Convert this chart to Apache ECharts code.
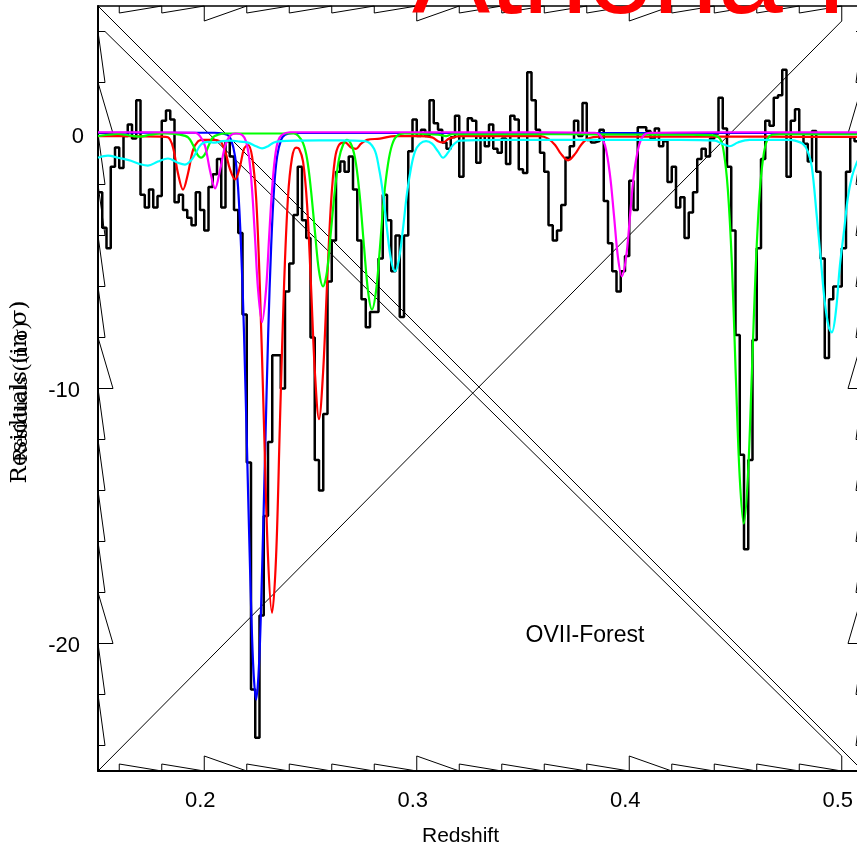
<!DOCTYPE html>
<html>
<head>
<meta charset="utf-8">
<script src="https://cdn.jsdelivr.net/npm/echarts@6/dist/echarts.min.js"></script>
<style>
  html, body { margin: 0; padding: 0; background: #ffffff; }
  #chart { width: 857px; height: 848px; }
</style>
</head>
<body>
<div id="chart"></div>
<script>
// Axis ranges
const X_MIN = 0.15, X_MAX = 0.51, Y_MIN = -25, Y_MAX = 5;

// Tick positions (sawtooth tick marks) and labelled ticks
const xTickVals = [0.16, 0.18, 0.2, 0.22, 0.24, 0.26, 0.28, 0.3, 0.32, 0.34, 0.36, 0.38, 0.4, 0.42, 0.44, 0.46, 0.48, 0.5];
const xMajorVals = [0.2, 0.3, 0.4, 0.5];
const yTickVals = [-24, -22, -20, -18, -16, -14, -12, -10, -8, -6, -4, -2, 0, 2, 4];
const yMajorVals = [-20, -10, 0];
const xLabelVals = [0.2, 0.3, 0.4, 0.5];
const yLabelVals = [-20, -10, 0];

// Binned residuals: bins of width 0.002 starting at z = 0.150
const binStart = 0.15;
const binWidth = 0.002;
const residuals = [
  -2.3, -3.7, -4.5, -1.3, -0.55, -1.35, -0.1, 0.35, -0.2, 1.3,
  -2.4, -2.9, -2.2, -2.9, -2.45, 0.5, 0.9, 0.55, -2.7, -2.4,
  -3.0, -3.3, -3.6, -2.3, -3.0, -3.8, -2.1, -1.6, -1.0, -2.9,
  -0.3, -0.9, -3.0, -3.9, -7.1, -12.9, -21.8, -23.7, -18.9, -15.0,
  -12.1, -8.7, -8.7, -10.0, -6.2, -5.1, -3.2, -1.3, -3.4, -4.1,
  -8.0, -12.8, -14.0, -11.0, -5.8, -4.2, -1.5, -1.1, -1.5, -0.9,
  -2.2, -4.2, -6.5, -7.6, -7.0, -7.0, -4.9, -2.4, -3.4, -5.4,
  -4.0, -7.2, -4.0, -0.7, 0.55, -0.1, 0.15, -0.1, 1.3, 0.4,
  0.15, -0.35, -0.6, -0.15, 0.7, -1.7, 0.0, 0.6, 0.5, -1.15,
  0.0, -0.5, 0.35, -0.6, -0.75, -0.2, -1.2, 0.7, 0.55, -1.4,
  -1.55, 2.4, 1.3, 0.15, -0.75, -1.5, -3.6, -4.2, -3.8, -2.8,
  -0.95, -0.5, 0.5, -0.1, 1.2, -0.25, -0.35, -0.3, 0.15, -2.65,
  -4.3, -5.4, -6.2, -5.4, -4.8, -1.85, -3.0, 0.25, 0.25, 0.1,
  -0.2, 0.2, -0.5, -0.3, -1.9, -1.3, -2.9, -2.5, -4.1, -3.1,
  -2.3, -1.0, -0.6, -0.9, -0.2, 0.0, 1.4, 0.2, -1.3, -3.8,
  -7.9, -12.6, -16.3, -12.8, -8.1, -4.5, -1.0, 0.5, 0.3, 1.4,
  1.5, 2.5, -1.7, 0.5, 0.95, 0.0, -0.4, -1.1, 0.1, -1.5,
  -4.9, -8.8, -6.5, -6.0, -6.0, -4.5, -1.5, -0.15, -0.3, -0.5
];

// Line-absorption model components: [redshift, residual]
const blueModel = [
  [0.1500, 0.03], [0.1800, 0.03], [0.2050, 0.03], [0.2108, -0.05], [0.2126, -0.24], [0.2145, -0.9],
  [0.2159, -2.1], [0.2173, -4.4], [0.2187, -7.8], [0.2201, -12.3], [0.2216, -17.2], [0.2230, -20.8],
  [0.2244, -22.2], [0.2258, -20.8], [0.2272, -17.2], [0.2287, -12.3], [0.2301, -7.8], [0.2315, -4.4],
  [0.2329, -2.1], [0.2343, -0.9], [0.2362, -0.24], [0.2380, -0.05], [0.2420, 0.02], [0.26, 0.02],
  [0.30, 0.02], [0.35, 0.02], [0.40, 0.02], [0.45, 0.02], [0.51, 0.02]
];
const redModel = [
  [0.1500, -0.1], [0.1651, -0.1], [0.1792, -0.12], [0.1829, -0.15], [0.1853, -0.55], [0.1876, -1.55],
  [0.1900, -2.2], [0.1924, -1.55], [0.1947, -0.65], [0.1971, -0.3], [0.1994, -0.25], [0.2041, -0.25],
  [0.2074, -0.3], [0.2084, -0.4], [0.2102, -0.8], [0.2121, -1.4], [0.2145, -1.8], [0.2168, -1.3],
  [0.2187, -0.6], [0.2206, -0.45], [0.2225, -0.9], [0.2244, -2.5], [0.2262, -6.1], [0.2281, -11.4],
  [0.2300, -16.6], [0.2319, -18.8], [0.2338, -16.6], [0.2356, -11.4], [0.2375, -6.1], [0.2394, -2.5],
  [0.2413, -0.95], [0.2432, -0.55], [0.2446, -0.6], [0.2465, -1.1], [0.2484, -2.8], [0.2502, -5.9],
  [0.2521, -9.4], [0.2540, -11.2], [0.2559, -9.4], [0.2578, -5.9], [0.2596, -2.8], [0.2615, -1.0],
  [0.2634, -0.45], [0.2662, -0.35], [0.2691, -0.55], [0.2714, -0.6], [0.2738, -0.4], [0.2766, -0.25],
  [0.2827, -0.2], [0.2898, -0.1], [0.3015, -0.1], [0.3072, -0.15], [0.3100, -0.3], [0.3124, -0.35],
  [0.3152, -0.2], [0.3204, -0.1], [0.3392, -0.1], [0.3580, -0.1], [0.3618, -0.2], [0.3651, -0.45],
  [0.3679, -0.8], [0.3712, -1.05], [0.3745, -0.8], [0.3773, -0.45], [0.3806, -0.2], [0.3862, -0.12],
  [0.4098, -0.12], [0.45, -0.12], [0.48, -0.13], [0.51, -0.13]
];
const magentaModel = [
  [0.1500, 0.05], [0.1745, 0.05], [0.1956, 0.03], [0.1980, -0.1], [0.2004, -0.5], [0.2027, -1.45],
  [0.2051, -2.15], [0.2074, -1.45], [0.2098, -0.5], [0.2121, -0.1], [0.2149, 0.0], [0.2178, -0.05],
  [0.2196, -0.3], [0.2211, -0.94], [0.2225, -2.2], [0.2239, -4.1], [0.2253, -6.1], [0.2272, -7.4],
  [0.2291, -6.1], [0.2305, -4.1], [0.2319, -2.2], [0.2333, -0.94], [0.2347, -0.3], [0.2366, -0.05],
  [0.2404, 0.05], [0.28, 0.05], [0.32, 0.05], [0.36, 0.05], [0.3839, 0.03], [0.3862, -0.06],
  [0.3886, -0.46], [0.3909, -1.6], [0.3928, -3.2], [0.3947, -4.87], [0.3965, -5.6], [0.3985, -4.87],
  [0.4004, -3.2], [0.4022, -1.6], [0.4046, -0.46], [0.4069, -0.06], [0.4098, 0.03], [0.44, 0.05],
  [0.48, 0.05], [0.51, 0.05]
];
const greenModel = [
  [0.1500, -0.1], [0.1547, -0.05], [0.1594, -0.02], [0.1627, -0.05], [0.1698, -0.12], [0.1745, -0.05],
  [0.1815, 0.0], [0.1886, -0.05], [0.1924, -0.15], [0.1947, -0.45], [0.1966, -0.8], [0.1985, -0.95],
  [0.2004, -0.8], [0.2022, -0.45], [0.2041, -0.15], [0.2065, -0.05], [0.2098, 0.0], [0.22, 0.0],
  [0.23, 0.0], [0.2420, 0.0], [0.2441, -0.08], [0.2465, -0.38], [0.2484, -1.0], [0.2502, -2.2],
  [0.2521, -3.86], [0.2540, -5.4], [0.2559, -6.0], [0.2578, -5.4], [0.2596, -3.86], [0.2615, -2.2],
  [0.2634, -1.0], [0.2653, -0.45], [0.2672, -0.25], [0.2695, -0.5], [0.2714, -1.18], [0.2733, -2.55],
  [0.2752, -4.45], [0.2771, -6.2], [0.2789, -6.9], [0.2808, -6.2], [0.2827, -4.45], [0.2845, -2.55],
  [0.2865, -1.18], [0.2884, -0.44], [0.2906, -0.1], [0.2944, 0.0], [0.3100, -0.05], [0.3138, -0.1],
  [0.3166, -0.03], [0.34, -0.03], [0.37, -0.03], [0.40, -0.04], [0.43, -0.05], [0.4385, -0.06],
  [0.4426, -0.19], [0.4445, -0.74], [0.4464, -2.2], [0.4483, -5.1], [0.4501, -9.4], [0.4520, -13.5],
  [0.4539, -15.3], [0.4558, -13.5], [0.4577, -9.4], [0.4596, -5.1], [0.4615, -2.2], [0.4634, -0.74],
  [0.4652, -0.19], [0.4672, -0.05], [0.4709, -0.03], [0.49, -0.03], [0.51, -0.03]
];
const cyanModel = [
  [0.1500, -0.95], [0.1547, -0.87], [0.1594, -0.95], [0.1655, -1.07], [0.1698, -1.2], [0.1735, -1.26],
  [0.1782, -1.1], [0.1829, -0.98], [0.1876, -1.15], [0.1909, -1.22], [0.1933, -1.1], [0.1956, -0.83],
  [0.1985, -0.43], [0.2018, -0.33], [0.2051, -0.36], [0.2084, -0.3], [0.2126, -0.28], [0.2168, -0.32],
  [0.2206, -0.36], [0.2244, -0.5], [0.2272, -0.58], [0.2300, -0.5], [0.2328, -0.35], [0.2361, -0.3],
  [0.2441, -0.28], [0.2639, -0.27], [0.2756, -0.3], [0.2799, -0.6], [0.2822, -1.35], [0.2841, -2.35],
  [0.2860, -3.75], [0.2879, -4.95], [0.2898, -5.4], [0.2916, -4.95], [0.2935, -3.75], [0.2954, -2.35],
  [0.2973, -1.35], [0.2992, -0.7], [0.3015, -0.4], [0.3044, -0.3], [0.3072, -0.4], [0.3100, -0.7],
  [0.3124, -0.95], [0.3147, -0.75], [0.3171, -0.45], [0.3204, -0.28], [0.3392, -0.25], [0.3651, -0.25],
  [0.3956, -0.25], [0.4239, -0.25], [0.4404, -0.28], [0.4436, -0.4], [0.4473, -0.5], [0.4511, -0.35],
  [0.4567, -0.25], [0.4756, -0.25], [0.4780, -0.28], [0.4816, -0.4], [0.4840, -0.7], [0.4859, -1.3],
  [0.4882, -3.2], [0.4901, -4.9], [0.4920, -6.6], [0.4939, -7.6], [0.4953, -7.8], [0.4972, -7.0],
  [0.4991, -5.2], [0.5011, -3.8], [0.5029, -2.5], [0.5048, -1.7], [0.5068, -1.2], [0.5100, -0.7]
];

const MINOR_LEN = 7, MAJOR_LEN = 15;
const FONT = '"Liberation Sans", Arial, sans-serif';

// Step-histogram points: each bin value held from its left edge to the next edge
const histData = residuals.map((v, i) => [+(binStart + i * binWidth).toFixed(4), v]);
histData.push([+(binStart + residuals.length * binWidth).toFixed(4), residuals[residuals.length - 1]]);

// Sawtooth tick marks on all four sides plus the frame diagonals
function renderFrame(params, api) {
  const kids = [];
  const seg = pts => kids.push({
    type: 'polyline', silent: true,
    shape: { points: pts },
    style: { stroke: '#000', lineWidth: 1, fill: null }
  });
  const tickLen = (v, majors) => (majors.indexOf(v) >= 0 ? MAJOR_LEN : MINOR_LEN);

  xTickVals.forEach((x, i) => {
    const L = tickLen(x, xMajorVals);
    const b = api.coord([x, Y_MIN]);
    const t = api.coord([x, Y_MAX]);
    const nx = xTickVals[i + 1];
    if (nx !== undefined) {
      seg([b, [b[0], b[1] - L], api.coord([nx, Y_MIN])]);
      seg([t, [t[0], t[1] + L], api.coord([nx, Y_MAX])]);
    } else {
      seg([b, [b[0], b[1] - L]]);
      seg([t, [t[0], t[1] + L]]);
    }
  });
  yTickVals.forEach((y, i) => {
    const L = tickLen(y, yMajorVals);
    const l = api.coord([X_MIN, y]);
    const r = api.coord([X_MAX, y]);
    const ny = yTickVals[i + 1];
    if (ny !== undefined) {
      seg([l, [l[0] + L, l[1]], api.coord([X_MIN, ny])]);
      seg([r, [r[0] - L, r[1]], api.coord([X_MAX, ny])]);
    } else {
      seg([l, [l[0] + L, l[1]]]);
      seg([r, [r[0] - L, r[1]]]);
    }
  });

  const lastX = xTickVals[xTickVals.length - 1];
  const lastY = yTickVals[yTickVals.length - 1];
  const lEnd = api.coord([X_MIN, lastY]);
  const bEnd = api.coord([lastX, Y_MIN]);
  const tEnd = api.coord([lastX, Y_MAX]);
  seg([api.coord([X_MIN, Y_MAX]), api.coord([X_MAX, Y_MIN])]);
  seg([[lEnd[0] + tickLen(lastY, yMajorVals), lEnd[1]], [bEnd[0], bEnd[1] - tickLen(lastX, xMajorVals)]]);
  seg([api.coord([X_MIN, Y_MIN]), [tEnd[0], tEnd[1] + tickLen(lastX, xMajorVals)]]);

  return { type: 'group', children: kids };
}

function modelSeries(name, color, data) {
  return {
    name, type: 'line', data, symbol: 'none', smooth: 0.35, clip: true,
    lineStyle: { color, width: 2.2 }, z: 3
  };
}

const chart = echarts.init(document.getElementById('chart'), null, { renderer: 'canvas' });
chart.setOption({
  animation: false,
  backgroundColor: '#ffffff',
  grid: { left: 98, top: 6, width: 765, height: 765, containLabel: false, outerBoundsMode: 'none' },
  xAxis: [
    {
      type: 'value', min: X_MIN, max: X_MAX, position: 'bottom',
      name: 'Redshift', nameLocation: 'middle', nameGap: 55,
      nameTextStyle: { fontFamily: FONT, fontSize: 21, color: '#000', padding: [0, 40, 0, 0] },
      axisLine: { onZero: false, lineStyle: { color: '#000', width: 2 } },
      axisTick: { show: false },
      splitLine: { show: false },
      axisLabel: {
        customValues: xLabelVals, margin: 19,
        formatter: v => '{t|' + v.toFixed(1) + '}',
        rich: { t: { fontFamily: FONT, fontSize: 22, color: '#000', padding: [0, 8, 0, 0] } }
      }
    },
    {
      type: 'value', min: X_MIN, max: X_MAX, position: 'top',
      axisLine: { onZero: false, lineStyle: { color: '#000', width: 1.5 } },
      axisTick: { show: false }, axisLabel: { show: false }, splitLine: { show: false }
    }
  ],
  yAxis: [
    {
      type: 'value', min: Y_MIN, max: Y_MAX, position: 'left',
      axisLine: { onZero: false, lineStyle: { color: '#000', width: 2 } },
      axisTick: { show: false },
      splitLine: { show: false },
      axisLabel: {
        customValues: yLabelVals, margin: 14,
        formatter: v => (v === 0 ? '{z|0}' : '{n|' + v + '}'),
        rich: {
          z: { fontFamily: FONT, fontSize: 22, color: '#000', padding: [6, 0, 0, 0] },
          n: { fontFamily: FONT, fontSize: 22, color: '#000', padding: [4, 4, 0, 0] }
        }
      }
    },
    {
      type: 'value', min: Y_MIN, max: Y_MAX, position: 'right',
      axisLine: { onZero: false, lineStyle: { color: '#000', width: 1.5 } },
      axisTick: { show: false }, axisLabel: { show: false }, splitLine: { show: false }
    }
  ],
  series: [
    {
      type: 'custom', coordinateSystem: 'cartesian2d', clip: false, silent: true,
      renderItem: renderFrame, data: [[X_MIN, Y_MIN]], z: 1
    },
    {
      name: 'Residuals', type: 'line', data: histData, step: 'end', symbol: 'none', clip: true,
      lineStyle: { color: '#000', width: 2.5 }, z: 2
    },
    modelSeries('blue', '#0000ff', blueModel),
    modelSeries('red', '#ff0000', redModel),
    modelSeries('green', '#00ff00', greenModel),
    modelSeries('magenta', '#ff00ff', magentaModel),
    modelSeries('cyan', '#00ffff', cyanModel)
  ],
  graphic: [
    {
      type: 'text', x: 412, y: 39, z: 10,
      style: { text: 'Athena IFU', font: '117px "Liberation Sans", Arial, sans-serif', fill: '#ff0000', align: 'left', verticalAlign: 'bottom' }
    },
    {
      type: 'text', x: 585, y: 636, z: 10,
      style: { text: 'OVII-Forest', font: '23px "Liberation Sans", Arial, sans-serif', fill: '#000', align: 'center', verticalAlign: 'middle' }
    },
    {
      type: 'text', x: 21, y: 392, rotation: Math.PI / 2, z: 10,
      style: { text: 'Residuals (in σ)', font: '22px "Liberation Serif", serif', fill: '#000', align: 'center', verticalAlign: 'middle' }
    },
    {
      type: 'text', x: 20, y: 392, rotation: Math.PI / 2, z: 10,
      style: { text: 'Residuals (in σ)', font: '23px "DejaVu Serif", serif', fill: '#000', align: 'center', verticalAlign: 'middle' }
    }
  ]
});
</script>
</body>
</html>
